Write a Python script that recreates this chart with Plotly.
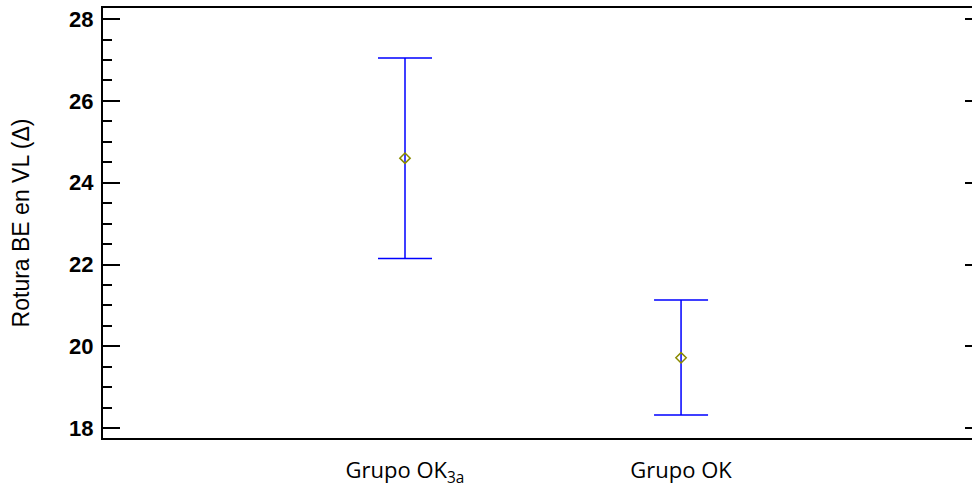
import plotly.graph_objects as go

categories = ["Grupo OK<sub>3a</sub>", "Grupo OK"]
means = [24.60, 19.72]
lower = [22.15, 18.32]
upper = [27.05, 21.13]
y_ticks = [18, 20, 22, 24, 26, 28]

x_pos = list(range(len(categories)))
err_plus = [u - m for u, m in zip(upper, means)]
err_minus = [m - l for m, l in zip(means, lower)]

fig = go.Figure()
fig.add_trace(go.Scatter(
    x=x_pos, y=means, mode="markers",
    marker=dict(symbol="diamond-open", size=8, color="#8a8a00", line=dict(width=1.5, color="#8a8a00")),
    error_y=dict(type="data", symmetric=False, array=err_plus, arrayminus=err_minus,
                 color="#0000ff", thickness=1.5, width=27),
    showlegend=False,
))
# invisible trace on secondary y axis for right-side ticks
fig.add_trace(go.Scatter(x=x_pos, y=means, yaxis="y2", mode="markers",
                         marker=dict(opacity=0), showlegend=False, hoverinfo="skip"))

yr = [17.76, 28.27]
fig.update_layout(
    width=972, height=488,
    margin=dict(l=103, r=0, t=8, b=48),
    plot_bgcolor="white", paper_bgcolor="white",
    xaxis=dict(range=[-1.094, 2.054], tickvals=x_pos, ticktext=categories,
               showline=True, linecolor="black", linewidth=2, mirror=True,
               ticks="", showgrid=False, zeroline=False, ticklabelstandoff=12,
               tickfont=dict(family="Open Sans", size=22, color="black")),
    yaxis=dict(range=yr, tickvals=y_ticks, showline=True, linecolor="black", linewidth=2,
               ticks="inside", ticklen=17, tickwidth=2, tickcolor="black",
               minor=dict(dtick=0.5, ticks="inside", ticklen=9, tickwidth=2, tickcolor="black"),
               showgrid=False, zeroline=False, ticklabelstandoff=3,
               tickfont=dict(family="Liberation Sans", size=22, color="black", weight="bold"),
               title=dict(text="Rotura BE en VL (Δ)", standoff=33,
                          font=dict(family="Liberation Sans", size=23, color="black"))),
    yaxis2=dict(range=yr, tickvals=y_ticks, overlaying="y", side="right", showline=False,
                ticks="inside", ticklen=7, tickwidth=2, tickcolor="black",
                showticklabels=False, showgrid=False, zeroline=False),
)
fig.write_html("out.html")
